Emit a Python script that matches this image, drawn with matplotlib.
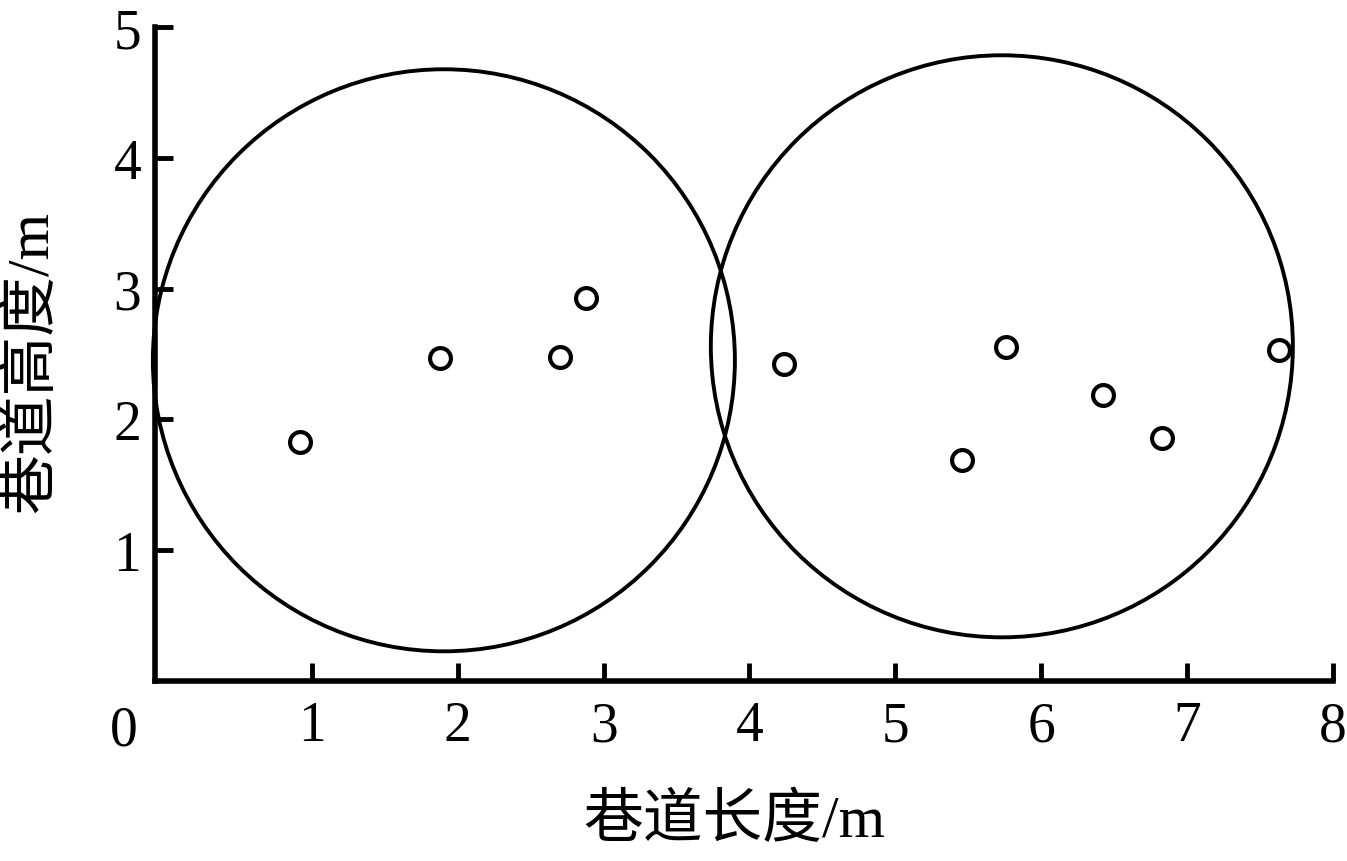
import numpy as np
import matplotlib
matplotlib.use("Agg")
import matplotlib.pyplot as plt
from matplotlib.patches import Ellipse

plt.rcParams['font.family'] = ['Liberation Serif', 'Noto Sans CJK SC', 'DejaVu Sans']

# measured points (tunnel length, tunnel height)
x_pts = [0.92, 1.88, 2.70, 2.88, 4.24, 5.46, 5.76, 6.42, 6.83, 7.63]
y_pts = [1.83, 2.47, 2.48, 2.93, 2.42, 1.69, 2.55, 2.19, 1.86, 2.53]

# cluster circles: centre x, centre y, width, height (data units)
circ_cx = [1.905, 5.730]
circ_cy = [2.452, 2.559]
circ_w = [3.99, 3.99]
circ_h = [4.45, 4.45]

x_ticks = [1, 2, 3, 4, 5, 6, 7, 8]
y_ticks = [1, 2, 3, 4, 5]

fig = plt.figure(figsize=(13.47, 8.62), dpi=100)
ax = fig.add_axes([0.1151, 0.2088, 0.8745, 0.7587])

for cx, cy, w, h in zip(circ_cx, circ_cy, circ_w, circ_h):
    ax.add_patch(Ellipse((cx, cy), w, h, fill=False, ec='black', lw=2.8, clip_on=False))

ax.plot(x_pts, y_pts, 'o', ms=15, mfc='white', mec='black', mew=3, ls='none')

ax.set_xlim(-0.075, 8.0)
ax.set_ylim(0, 5)
ax.set_xticks(x_ticks)
ax.set_yticks(y_ticks)
ax.tick_params(direction='in', length=13, width=3.5, labelsize=40)
ax.tick_params(axis='x', pad=14)
ax.tick_params(axis='y', pad=10)

for s in ['top', 'right']:
    ax.spines[s].set_visible(False)
for s in ['left', 'bottom']:
    ax.spines[s].set_linewidth(4)

# origin label sits left of the corner
ax.text(-0.29, -0.036, '0', transform=ax.get_xaxis_transform(), fontsize=40,
        ha='center', va='top')

ax.set_xlabel('巷道长度/m', fontsize=43)
ax.set_ylabel('巷道高度/m', fontsize=43)
ax.xaxis.set_label_coords(0.492, -0.172)
ax.yaxis.set_label_coords(-0.080, 0.49)

fig.savefig('out.png', dpi=100, facecolor='white')
